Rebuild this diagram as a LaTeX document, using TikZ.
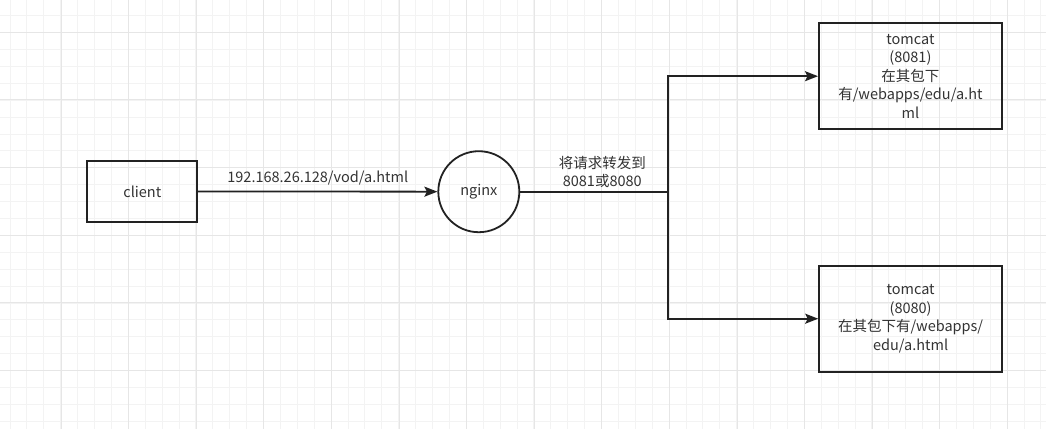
\documentclass[tikz,border=0pt]{standalone}
\usepackage{fontspec}
\setmainfont{Noto Sans CJK SC}
\usepackage{xcolor}
\usepackage{tikz}
\usetikzlibrary{arrows.meta, positioning}

\definecolor{ink}{HTML}{222222}
\definecolor{txt}{HTML}{333333}
\definecolor{gridminor}{HTML}{F3F3F3}
\definecolor{gridmajor}{HTML}{E6E6E6}

\begin{document}
\begin{tikzpicture}[
    x=1pt, y=-1pt,
    box/.style={draw=ink, line width=1.8pt, align=center, text=txt,
                font=\fontsize{14.5}{18.5}\selectfont, inner sep=2pt},
    srv/.style={box, minimum width=183pt, minimum height=106pt},
    hub/.style={box, circle, minimum size=81pt},
    line/.style={draw=ink, line width=1.8pt},
    arr/.style={line, -{Stealth[length=13pt, width=10pt, inset=2.5pt]}},
    lbl/.style={font=\fontsize{14.5}{18}\selectfont, text=txt, align=center,
                inner sep=1pt}
]
\useasboundingbox (0,0) rectangle (1046,429);

% Grid
\foreach \gx in {0,...,62}
  \draw[gridminor, line width=1pt] (10+16.9*\gx-16.9,0) -- (10+16.9*\gx-16.9,429);
\foreach \gy in {0,...,25}
  \draw[gridminor, line width=1pt] (0,15.7+16.9*\gy-16.9) -- (1046,15.7+16.9*\gy-16.9);
\foreach \gx in {0,...,15}
  \draw[gridmajor, line width=1pt] (61+67.6*\gx-67.6,0) -- (61+67.6*\gx-67.6,429);
\foreach \gy in {0,...,6}
  \draw[gridmajor, line width=1pt] (0,32.3+67.6*\gy) -- (1046,32.3+67.6*\gy);

% Nodes
\node[box, minimum width=110pt, minimum height=61pt] (client) at (142.3,191.4) {client};
\node[hub] (nginx) at (478.8,191.7) {nginx};
\node[srv] (tomcatA) at (910.4,76.2) {tomcat\\(8081)\\在其包下\\有/webapps/edu/a.ht\\ml};
\node[srv] (tomcatB) at (910.6,318.7) {tomcat\\(8080)\\在其包下有/webapps/\\edu/a.html};
\coordinate (split) at (668.3,191.7);

% Arrows
\draw[arr] (client) -- (nginx) node[lbl, midway, above=5pt] {192.168.26.128/vod/a.html};
\draw[line] (nginx) -- (split) node[lbl, midway, above=2pt, xshift=8pt] {将请求转发到\\8081或8080};
\draw[arr] (split) |- (tomcatA);
\draw[arr] (split) |- (tomcatB);

\end{tikzpicture}
\end{document}
